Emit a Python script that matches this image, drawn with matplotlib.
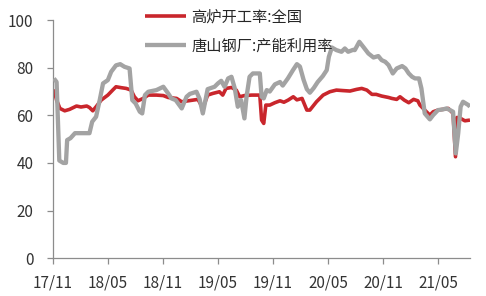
import matplotlib
matplotlib.use("Agg")
import matplotlib.pyplot as plt
import matplotlib.dates as mdates
import pandas as pd

plt.rcParams['font.family'] = ['Noto Sans CJK SC', 'DejaVu Sans']

series_names = ['高炉开工率:全国', '唐山钢厂:产能利用率']

red_dates = ['2017-11-04', '2017-11-13', '2017-11-24', '2017-12-10', '2017-12-26', '2018-01-18',
             '2018-02-02', '2018-02-21', '2018-03-02', '2018-03-13', '2018-03-24', '2018-04-10',
             '2018-05-02', '2018-05-18', '2018-05-29', '2018-06-16', '2018-07-02', '2018-07-18',
             '2018-07-29', '2018-08-10', '2018-08-27', '2018-09-13', '2018-10-10', '2018-11-02',
             '2018-11-18', '2018-12-16', '2019-01-02', '2019-01-18', '2019-01-29', '2019-02-25',
             '2019-03-13', '2019-03-29', '2019-04-15', '2019-05-07', '2019-05-18', '2019-05-29',
             '2019-06-16', '2019-07-02', '2019-07-13', '2019-07-29', '2019-08-22', '2019-09-18',
             '2019-09-24', '2019-10-01', '2019-10-08', '2019-10-21', '2019-11-07', '2019-11-24',
             '2019-12-07', '2019-12-21', '2020-01-07', '2020-01-19', '2020-02-05', '2020-02-21',
             '2020-03-02', '2020-03-24', '2020-04-15', '2020-05-07', '2020-05-29', '2020-06-19',
             '2020-07-13', '2020-08-04', '2020-08-21', '2020-09-07', '2020-09-24', '2020-10-08',
             '2020-10-26', '2020-11-18', '2020-11-29', '2020-12-15', '2020-12-26', '2021-01-09',
             '2021-01-24', '2021-02-09', '2021-02-23', '2021-03-02', '2021-03-18', '2021-04-04',
             '2021-04-15', '2021-05-01', '2021-05-17', '2021-06-04', '2021-06-20', '2021-06-28',
             '2021-07-03', '2021-07-15', '2021-07-29', '2021-08-15']
red_values = [70.9, 66.4, 62.9, 61.9, 62.5, 63.9,
              63.5, 63.9, 63.3, 61.9, 63.6, 66.4,
              68.5, 70.6, 72.0, 71.6, 71.3, 70.6,
              67.8, 66.1, 67.1, 68.5, 68.5, 68.3,
              67.5, 67.1, 65.7, 66.0, 66.2, 66.7,
              63.0, 68.5, 69.2, 69.9, 68.5, 71.3,
              71.7, 70.6, 67.8, 68.3, 68.5, 68.5,
              58.0, 56.6, 64.3, 64.3, 65.3, 66.1,
              65.5, 66.4, 67.8, 66.5, 67.1, 62.2,
              62.2, 65.7, 68.5, 69.9, 70.6, 70.4,
              70.2, 70.9, 71.3, 70.6, 68.8, 68.8,
              68.1, 67.5, 67.1, 66.7, 67.8, 66.4,
              65.3, 66.7, 66.1, 64.3, 62.2, 60.1,
              61.5, 62.2, 62.5, 62.9, 60.8, 42.6,
              59.1, 58.7, 57.7, 58.0]

gray_dates = ['2017-11-04', '2017-11-13', '2017-11-22', '2017-12-05', '2017-12-14', '2017-12-18',
              '2017-12-29', '2018-01-13', '2018-03-02', '2018-03-11', '2018-03-24', '2018-04-05',
              '2018-04-16', '2018-05-02', '2018-05-13', '2018-05-29', '2018-06-12', '2018-06-26',
              '2018-07-13', '2018-07-22', '2018-08-02', '2018-08-16', '2018-08-24', '2018-09-02',
              '2018-09-13', '2018-10-10', '2018-11-02', '2018-11-18', '2018-11-29', '2018-12-13',
              '2019-01-02', '2019-01-18', '2019-01-29', '2019-02-20', '2019-03-02', '2019-03-13',
              '2019-03-29', '2019-04-21', '2019-05-02', '2019-05-13', '2019-05-24', '2019-06-05',
              '2019-06-16', '2019-06-27', '2019-07-07', '2019-07-18', '2019-07-29', '2019-08-05',
              '2019-08-15', '2019-08-26', '2019-09-18', '2019-09-24', '2019-10-01', '2019-10-11',
              '2019-10-21', '2019-11-07', '2019-11-24', '2019-12-03', '2019-12-20', '2020-01-06',
              '2020-01-19', '2020-01-29', '2020-02-10', '2020-02-21', '2020-03-02', '2020-03-15',
              '2020-03-28', '2020-04-14', '2020-04-27', '2020-05-04', '2020-05-14', '2020-05-29',
              '2020-06-15', '2020-06-26', '2020-07-07', '2020-07-23', '2020-07-29', '2020-08-13',
              '2020-08-26', '2020-09-12', '2020-09-29', '2020-10-15', '2020-10-26', '2020-11-07',
              '2020-11-18', '2020-12-02', '2020-12-15', '2021-01-02', '2021-01-13', '2021-01-24',
              '2021-02-04', '2021-02-14', '2021-02-27', '2021-03-07', '2021-03-18', '2021-04-04',
              '2021-04-15', '2021-05-01', '2021-05-18', '2021-05-29', '2021-06-10', '2021-06-20',
              '2021-06-29', '2021-07-07', '2021-07-15', '2021-07-23', '2021-08-10', '2021-08-15']
gray_values = [75.5, 74.0, 41.0, 40.0, 40.0, 49.6,
               50.4, 52.5, 52.5, 57.3, 59.4, 66.4,
               73.4, 74.8, 78.3, 81.0, 81.5, 80.4,
               79.7, 66.4, 65.0, 61.5, 60.8, 68.5,
               69.9, 70.6, 72.0, 69.2, 67.1, 66.4,
               62.9, 67.8, 69.0, 69.9, 67.0, 60.8,
               71.0, 72.0, 73.4, 74.5, 72.0, 75.5,
               76.2, 71.3, 63.6, 66.4, 58.7, 67.8,
               76.2, 77.6, 77.6, 67.8, 67.1, 70.6,
               70.0, 73.0, 74.0, 72.5, 75.5, 79.0,
               81.5, 80.5, 75.0, 71.0, 69.5, 71.5,
               74.0, 76.5, 79.0, 84.6, 88.5, 87.4,
               86.7, 88.1, 86.7, 87.5, 87.4, 90.9,
               88.8, 86.0, 84.3, 84.9, 83.2, 82.5,
               81.1, 77.6, 79.7, 80.7, 79.7, 77.6,
               76.2, 75.5, 75.5, 71.3, 60.8, 58.3,
               60.1, 62.2, 62.5, 62.9, 62.2, 61.5,
               44.0, 52.4, 63.6, 65.7, 64.3, 63.6]

tick_dates = ['2017-11-01', '2018-05-01', '2018-11-01', '2019-05-01',
              '2019-11-01', '2020-05-01', '2020-11-01', '2021-05-01']
tick_labels = ['17/11', '18/05', '18/11', '19/05', '19/11', '20/05', '20/11', '21/05']
y_ticks = [0, 20, 40, 60, 80, 100]

fig = plt.figure(figsize=(4.86, 2.96), dpi=100)
ax = fig.add_axes([0.109, 0.128, 0.858, 0.804])

ax.plot(pd.to_datetime(red_dates), red_values, color='#C9262C', lw=2.6,
        solid_joinstyle='round', solid_capstyle='butt', label=series_names[0], zorder=2)
ax.plot(pd.to_datetime(gray_dates), gray_values, color='#A3A3A3', lw=3.1,
        solid_joinstyle='round', solid_capstyle='butt', label=series_names[1], zorder=3)

ax.set_xlim(pd.Timestamp('2017-11-01'), pd.Timestamp('2021-08-15'))
ax.set_ylim(0, 100)
ax.set_yticks(y_ticks)
ax.set_xticks(pd.to_datetime(tick_dates))
ax.set_xticklabels(tick_labels)

for s in ['top', 'right']:
    ax.spines[s].set_visible(False)
for s in ['left', 'bottom']:
    ax.spines[s].set_color('#8C8C8C')
    ax.spines[s].set_linewidth(0.9)
ax.tick_params(axis='both', colors='#8C8C8C', length=4, width=0.9, direction='out',
               labelcolor='#333333', labelsize=11)
ax.tick_params(axis='x', pad=8)
ax.tick_params(axis='y', pad=10)

leg = ax.legend(loc='upper left', bbox_to_anchor=(0.205, 1.075), frameon=False,
                fontsize=11, handlelength=2.7, labelspacing=0.8, handletextpad=0.35,
                borderaxespad=0)
for t in leg.get_texts():
    t.set_color('#262626')

fig.savefig('out.png', dpi=100)
